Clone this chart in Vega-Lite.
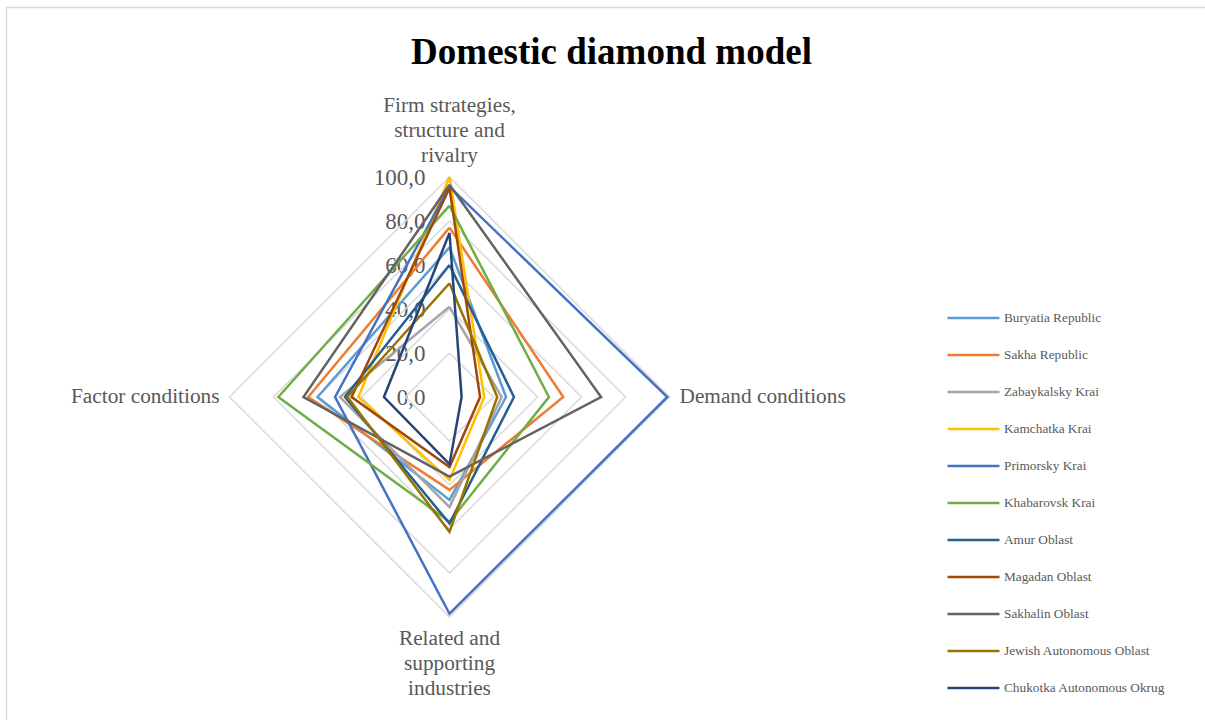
{
  "$schema": "https://vega.github.io/schema/vega-lite/v6.json",
  "width": 1200,
  "height": 715,
  "autosize": {"type": "none"},
  "padding": {"left": 6.5, "top": 7.5, "right": 0, "bottom": 0},
  "background": "white",
  "config": {
    "view": {"stroke": "#D9D9D9", "strokeWidth": 1.5},
    "font": "Liberation Serif"
  },
  "title": {
    "text": "Domestic diamond model",
    "font": "Liberation Serif",
    "fontSize": 37,
    "fontWeight": "bold",
    "color": "#000000",
    "anchor": "middle",
    "frame": "group",
    "baseline": "alphabetic",
    "offset": 0,
    "dx": 5,
    "dy": 93
  },
  "datasets": {
    "scores": [
      {"region": "Buryatia Republic", "dim": "Firm", "v": 68},
      {"region": "Buryatia Republic", "dim": "Demand", "v": 25.7},
      {"region": "Buryatia Republic", "dim": "Related", "v": 46.8},
      {"region": "Buryatia Republic", "dim": "Factor", "v": 60},
      {"region": "Buryatia Republic", "dim": "Firm", "v": 68},
      {"region": "Sakha Republic", "dim": "Firm", "v": 77},
      {"region": "Sakha Republic", "dim": "Demand", "v": 51.7},
      {"region": "Sakha Republic", "dim": "Related", "v": 42.2},
      {"region": "Sakha Republic", "dim": "Factor", "v": 64.2},
      {"region": "Sakha Republic", "dim": "Firm", "v": 77},
      {"region": "Zabaykalsky Krai", "dim": "Firm", "v": 41},
      {"region": "Zabaykalsky Krai", "dim": "Demand", "v": 23.7},
      {"region": "Zabaykalsky Krai", "dim": "Related", "v": 50},
      {"region": "Zabaykalsky Krai", "dim": "Factor", "v": 49.8},
      {"region": "Zabaykalsky Krai", "dim": "Firm", "v": 41},
      {"region": "Kamchatka Krai", "dim": "Firm", "v": 100},
      {"region": "Kamchatka Krai", "dim": "Demand", "v": 15.8},
      {"region": "Kamchatka Krai", "dim": "Related", "v": 37.7},
      {"region": "Kamchatka Krai", "dim": "Factor", "v": 41.4},
      {"region": "Kamchatka Krai", "dim": "Firm", "v": 100},
      {"region": "Primorsky Krai", "dim": "Firm", "v": 95.6},
      {"region": "Primorsky Krai", "dim": "Demand", "v": 99},
      {"region": "Primorsky Krai", "dim": "Related", "v": 98.5},
      {"region": "Primorsky Krai", "dim": "Factor", "v": 52},
      {"region": "Primorsky Krai", "dim": "Firm", "v": 95.6},
      {"region": "Khabarovsk Krai", "dim": "Firm", "v": 87},
      {"region": "Khabarovsk Krai", "dim": "Demand", "v": 45.2},
      {"region": "Khabarovsk Krai", "dim": "Related", "v": 56.7},
      {"region": "Khabarovsk Krai", "dim": "Factor", "v": 77.8},
      {"region": "Khabarovsk Krai", "dim": "Firm", "v": 87},
      {"region": "Amur Oblast", "dim": "Firm", "v": 60},
      {"region": "Amur Oblast", "dim": "Demand", "v": 29.3},
      {"region": "Amur Oblast", "dim": "Related", "v": 57.5},
      {"region": "Amur Oblast", "dim": "Factor", "v": 47.5},
      {"region": "Amur Oblast", "dim": "Firm", "v": 60},
      {"region": "Magadan Oblast", "dim": "Firm", "v": 95},
      {"region": "Magadan Oblast", "dim": "Demand", "v": 13.9},
      {"region": "Magadan Oblast", "dim": "Related", "v": 31.8},
      {"region": "Magadan Oblast", "dim": "Factor", "v": 44.5},
      {"region": "Magadan Oblast", "dim": "Firm", "v": 95},
      {"region": "Sakhalin Oblast", "dim": "Firm", "v": 96.5},
      {"region": "Sakhalin Oblast", "dim": "Demand", "v": 68.9},
      {"region": "Sakhalin Oblast", "dim": "Related", "v": 36.2},
      {"region": "Sakhalin Oblast", "dim": "Factor", "v": 66.4},
      {"region": "Sakhalin Oblast", "dim": "Firm", "v": 96.5},
      {"region": "Jewish Autonomous Oblast", "dim": "Firm", "v": 51.7},
      {"region": "Jewish Autonomous Oblast", "dim": "Demand", "v": 21.7},
      {"region": "Jewish Autonomous Oblast", "dim": "Related", "v": 61.3},
      {"region": "Jewish Autonomous Oblast", "dim": "Factor", "v": 46.4},
      {"region": "Jewish Autonomous Oblast", "dim": "Firm", "v": 51.7},
      {"region": "Chukotka Autonomous Okrug", "dim": "Firm", "v": 74.6},
      {"region": "Chukotka Autonomous Okrug", "dim": "Demand", "v": 5.5},
      {"region": "Chukotka Autonomous Okrug", "dim": "Related", "v": 30.5},
      {"region": "Chukotka Autonomous Okrug", "dim": "Factor", "v": 29.8},
      {"region": "Chukotka Autonomous Okrug", "dim": "Firm", "v": 74.6}
    ],
    "grid": [
      {"ring": 20, "dim": "Firm", "v": 20},
      {"ring": 20, "dim": "Demand", "v": 20},
      {"ring": 20, "dim": "Related", "v": 20},
      {"ring": 20, "dim": "Factor", "v": 20},
      {"ring": 20, "dim": "Firm", "v": 20},
      {"ring": 40, "dim": "Firm", "v": 40},
      {"ring": 40, "dim": "Demand", "v": 40},
      {"ring": 40, "dim": "Related", "v": 40},
      {"ring": 40, "dim": "Factor", "v": 40},
      {"ring": 40, "dim": "Firm", "v": 40},
      {"ring": 60, "dim": "Firm", "v": 60},
      {"ring": 60, "dim": "Demand", "v": 60},
      {"ring": 60, "dim": "Related", "v": 60},
      {"ring": 60, "dim": "Factor", "v": 60},
      {"ring": 60, "dim": "Firm", "v": 60},
      {"ring": 80, "dim": "Firm", "v": 80},
      {"ring": 80, "dim": "Demand", "v": 80},
      {"ring": 80, "dim": "Related", "v": 80},
      {"ring": 80, "dim": "Factor", "v": 80},
      {"ring": 80, "dim": "Firm", "v": 80},
      {"ring": 100, "dim": "Firm", "v": 100},
      {"ring": 100, "dim": "Demand", "v": 100},
      {"ring": 100, "dim": "Related", "v": 100},
      {"ring": 100, "dim": "Factor", "v": 100},
      {"ring": 100, "dim": "Firm", "v": 100}
    ],
    "labels": [
      {"dim": "Firm", "v": 100, "label": "Firm strategies,\nstructure and\nrivalry"},
      {"dim": "Demand", "v": 100, "label": "Demand conditions"},
      {"dim": "Related", "v": 100, "label": "Related and\nsupporting\nindustries"},
      {"dim": "Factor", "v": 100, "label": "Factor conditions"}
    ]
  },
  "encoding": {
    "x": {
      "field": "px",
      "type": "quantitative",
      "scale": {"domain": [-201.36, 344.09], "nice": false, "zero": false},
      "axis": null
    },
    "y": {
      "field": "py",
      "type": "quantitative",
      "scale": {"domain": [-147.95, 177.05], "nice": false, "zero": false},
      "axis": {
        "orient": "left",
        "offset": -443,
        "values": [0, 20, 40, 60, 80, 100],
        "labelExpr": "replace(format(datum.value, '.1f'), '.', ',')",
        "domain": false,
        "ticks": false,
        "grid": false,
        "title": null,
        "labelPadding": 24.5,
        "labelFont": "Liberation Serif",
        "labelFontSize": 23,
        "labelColor": "#595959",
        "labelBaseline": "middle"
      }
    }
  },
  "layer": [
    {
      "data": {"name": "grid"},
      "transform": [
        {"calculate": "datum.dim === 'Demand' ? datum.v : datum.dim === 'Factor' ? -datum.v : 0", "as": "px"},
        {"calculate": "datum.dim === 'Firm' ? datum.v : datum.dim === 'Related' ? -datum.v : 0", "as": "py"}
      ],
      "mark": {"type": "line", "stroke": "#D9D9D9", "strokeWidth": 1.5},
      "encoding": {
        "detail": {"field": "ring", "type": "nominal"},
        "order": {"value": null}
      }
    },
    {
      "data": {"name": "scores"},
      "transform": [
        {"calculate": "datum.dim === 'Demand' ? datum.v : datum.dim === 'Factor' ? -datum.v : 0", "as": "px"},
        {"calculate": "datum.dim === 'Firm' ? datum.v : datum.dim === 'Related' ? -datum.v : 0", "as": "py"}
      ],
      "mark": {"type": "line", "strokeWidth": 2.5},
      "encoding": {
        "color": {
          "field": "region",
          "type": "nominal",
          "scale": {
            "domain": ["Buryatia Republic", "Sakha Republic", "Zabaykalsky Krai", "Kamchatka Krai", "Primorsky Krai", "Khabarovsk Krai", "Amur Oblast", "Magadan Oblast", "Sakhalin Oblast", "Jewish Autonomous Oblast", "Chukotka Autonomous Okrug"],
            "range": ["#5B9BD5", "#ED7D31", "#A5A5A5", "#FFC000", "#4472C4", "#70AD47", "#255E91", "#9E480E", "#636363", "#997300", "#264478"]
          },
          "legend": {
            "orient": "none",
            "legendX": 939.5,
            "legendY": 283,
            "title": null,
            "symbolType": "stroke",
            "symbolSize": 2700,
            "symbolStrokeWidth": 2.5,
            "labelFont": "Liberation Serif",
            "labelFontSize": 13.3,
            "labelColor": "#595959",
            "labelOffset": 3,
            "labelLimit": 300,
            "rowPadding": 3
          }
        },
        "order": {"value": null}
      }
    },
    {
      "data": {"name": "labels"},
      "transform": [
        {"filter": "datum.dim === 'Firm'"},
        {"calculate": "0", "as": "px"},
        {"calculate": "datum.v", "as": "py"}
      ],
      "mark": {"type": "text", "align": "center", "baseline": "bottom", "dy": -61, "lineBreak": "\n", "lineHeight": 25, "font": "Liberation Serif", "fontSize": 21.3, "color": "#595959"},
      "encoding": {"text": {"field": "label"}}
    },
    {
      "data": {"name": "labels"},
      "transform": [
        {"filter": "datum.dim === 'Related'"},
        {"calculate": "0", "as": "px"},
        {"calculate": "-datum.v", "as": "py"}
      ],
      "mark": {"type": "text", "align": "center", "baseline": "top", "dy": 11, "lineBreak": "\n", "lineHeight": 25, "font": "Liberation Serif", "fontSize": 21.3, "color": "#595959"},
      "encoding": {"text": {"field": "label"}}
    },
    {
      "data": {"name": "labels"},
      "transform": [
        {"filter": "datum.dim === 'Demand'"},
        {"calculate": "datum.v", "as": "px"},
        {"calculate": "0", "as": "py"}
      ],
      "mark": {"type": "text", "align": "left", "baseline": "middle", "dx": 10, "font": "Liberation Serif", "fontSize": 21.3, "color": "#595959"},
      "encoding": {"text": {"field": "label"}}
    },
    {
      "data": {"name": "labels"},
      "transform": [
        {"filter": "datum.dim === 'Factor'"},
        {"calculate": "-datum.v", "as": "px"},
        {"calculate": "0", "as": "py"}
      ],
      "mark": {"type": "text", "align": "right", "baseline": "middle", "dx": -10, "font": "Liberation Serif", "fontSize": 21.3, "color": "#595959"},
      "encoding": {"text": {"field": "label"}}
    }
  ]
}
